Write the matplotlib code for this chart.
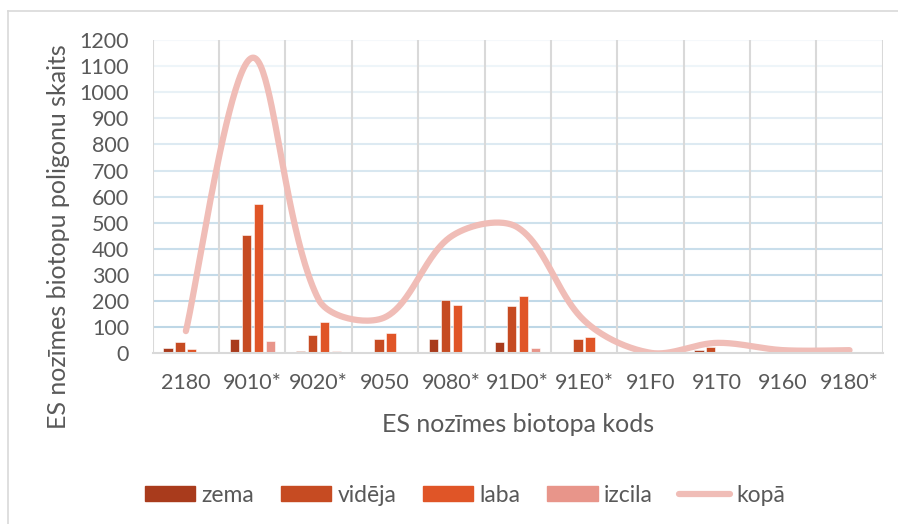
import matplotlib.pyplot as plt
import numpy as np
from matplotlib.lines import Line2D
from matplotlib.patches import Patch

plt.rcParams["font.family"] = ["Lato", "DejaVu Sans"]

kodi = ["2180", "9010*", "9020*", "9050", "9080*", "91D0*", "91E0*", "91F0", "91T0", "9160", "9180*"]
zema = [20, 56, 8, 2, 55, 43, 5, 0, 13, 1, 1]
videja = [45, 455, 72, 54, 204, 182, 55, 1, 23, 6, 2]
laba = [15, 573, 118, 78, 186, 218, 63, 1, 2, 2, 6]
izcila = [3, 46, 8, 2, 6, 22, 1, 0, 1, 1, 1]
kopa = [85, 1132, 206, 138, 448, 482, 126, 2, 40, 12, 12]

serijas = ["zema", "vidēja", "laba", "izcila"]
krasas = ["#A93B1C", "#C64B22", "#E05527", "#E8958A"]
kopa_krasa = "#F0BDB7"
teksts = "#595959"

W, H = 898, 524


def smooth_line(ax, x, y, n=50):
    # Bezier smoothing done in screen space, tangents split by neighbouring chord lengths
    pts = ax.transData.transform(np.column_stack([x, y]))
    m = len(pts)
    c_out = np.zeros_like(pts)
    c_in = np.zeros_like(pts)
    for i in range(m):
        prev = pts[max(i - 1, 0)]
        nxt = pts[min(i + 1, m - 1)]
        tan = nxt - prev
        dp = np.hypot(*(pts[i] - prev))
        dn = np.hypot(*(nxt - pts[i]))
        if i == 0 or i == m - 1:
            c_out[i] = pts[i] + tan / 6
            c_in[i] = pts[i] - tan / 6
        else:
            c_out[i] = pts[i] + tan * dn / (dp + dn) / 3
            c_in[i] = pts[i] - tan * dp / (dp + dn) / 3
    t = np.linspace(0, 1, n)[:, None]
    seg = []
    for i in range(m - 1):
        p1, p2 = pts[i], pts[i + 1]
        b = (1 - t) ** 3 * p1 + 3 * (1 - t) ** 2 * t * c_out[i] + 3 * (1 - t) * t ** 2 * c_in[i + 1] + t ** 3 * p2
        seg.append(b)
    return ax.transData.inverted().transform(np.vstack(seg))


fig = plt.figure(figsize=(W / 100, H / 100), dpi=100)
ax = fig.add_axes([152.7 / W, 1 - 353.3 / H, 730 / W, 313.3 / H])

# chart border
fig.add_artist(Line2D([8 / W, 8 / W], [0, 1 - 11 / H], color="#D9D9D9", lw=1.2))
fig.add_artist(Line2D([8 / W, 1], [1 - 11 / H, 1 - 11 / H], color="#D9D9D9", lw=1.2))

x = np.arange(len(kodi))
sirums = 0.14
nobid = [-0.27, -0.09, 0.09, 0.27]
for vert, nb, kr, nos in zip([zema, videja, laba, izcila], nobid, krasas, serijas):
    ax.bar(x + nb, vert, width=sirums, color=kr, edgecolor="white", linewidth=0.4, label=nos, zorder=3)

ax.set_xlim(-0.5, len(kodi) - 0.5)
ax.set_ylim(0, 1200)

liknes = smooth_line(ax, x, kopa)
ax.plot(liknes[:, 0], liknes[:, 1], color=kopa_krasa, lw=4.5, solid_capstyle="round", zorder=4)

ax.set_yticks(np.arange(0, 1201, 100))
ax.set_xticks(x)
ax.set_xticklabels(kodi)

# horizontal grid fades towards the top
for v in np.arange(100, 1201, 100):
    a = 1.0 - 0.85 * (v / 1200) ** 1.3
    ax.axhline(v, color="#BCD6E6", alpha=a, lw=1.5, zorder=1)
for b in np.arange(-0.5, len(kodi), 1):
    ax.axvline(b, color="#D9D9D9", lw=1.5, zorder=2)

for s in ["top", "right", "left"]:
    ax.spines[s].set_visible(False)
ax.spines["bottom"].set_color("#D9D9D9")
ax.spines["bottom"].set_linewidth(1.5)
ax.spines["bottom"].set_zorder(5)

ax.tick_params(length=0, labelsize=15.5, colors=teksts)
ax.tick_params(axis="y", pad=17)
ax.tick_params(axis="x", pad=14)

fig.text(517.7 / W, 1 - 425 / H, "ES nozīmes biotopa kods", fontsize=18, color=teksts, ha="center", va="center")
fig.text(58 / W, 1 - 237 / H, "ES nozīmes biotopu poligonu skaits", fontsize=18, color=teksts,
         ha="center", va="center", rotation=90)

rokturi = [Patch(color=k) for k in krasas] + [Line2D([0], [0], color=kopa_krasa, lw=4.5, solid_capstyle="round")]
fig.legend(rokturi, serijas + ["kopā"], loc="center", bbox_to_anchor=(465 / W, 1 - 495 / H), ncol=5,
           frameon=False, fontsize=16.5, handlelength=2.2, handleheight=0.6, handletextpad=0.28,
           columnspacing=1.15, labelcolor=teksts)

fig.savefig("out.png", dpi=100)
